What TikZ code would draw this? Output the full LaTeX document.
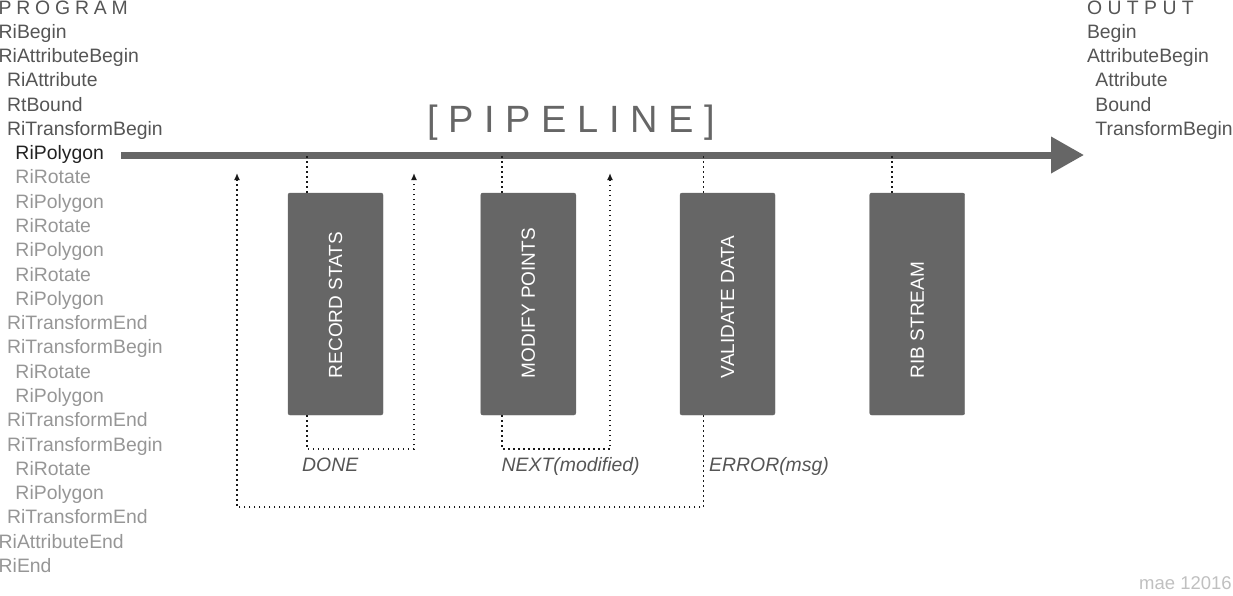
\documentclass[tikz,border=0pt]{standalone}
\usepackage{fontspec}
\setmainfont{Liberation Sans}
\usetikzlibrary{arrows.meta,calc,positioning}
\definecolor{pipeGray}{RGB}{102,102,102}
\definecolor{listDark}{RGB}{85,85,85}
\definecolor{listActive}{RGB}{34,34,34}
\definecolor{listLight}{RGB}{150,150,150}
\definecolor{signGray}{RGB}{192,192,192}
\colorlet{ink}{black!90}
\tikzset{
  pipe/.style={draw=pipeGray, line width=7pt, -{Triangle[length=33pt,width=35pt]}},
  stagebox/.style={
    draw=pipeGray,
    fill=pipeGray,
    rounded corners=2pt,
    minimum width=95pt,
    minimum height=222pt,
    inner sep=0pt,
    text=white,
    font=\fontsize{19}{23}\selectfont
  },
  tap/.style={draw=ink, line width=1.6pt, dash pattern=on 1.6pt off 3.4pt},
  feedback/.style={tap, -{Latex[length=7pt,width=6pt]}},
  listitem/.style={font=\fontsize{19.4}{23}\selectfont, anchor=base west, inner sep=0pt},
  header/.style={listitem, text=listDark},
  signal/.style={font=\fontsize{19.4}{23}\selectfont\itshape, text=listDark, anchor=base west, inner sep=0pt}
}
\newcommand{\StageText}[1]{\rotatebox{90}{\makebox[148pt][l]{#1}}}

\begin{document}
\begin{tikzpicture}[x=1pt,y=-1pt]
  \useasboundingbox (0,0) rectangle (1233,595);

  % program column
  \node[header] (proghead) at (-1.5,14) {\spaceskip=4.8pt P R O G R A M};
  \foreach \t/\ind/\c [count=\i from 0] in {
      RiBegin/0/listDark, RiAttributeBegin/0/listDark, RiAttribute/1/listDark,
      RtBound/1/listDark, RiTransformBegin/1/listDark, RiPolygon/2/listActive,
      RiRotate/2/listLight, RiPolygon/2/listLight, RiRotate/2/listLight,
      RiPolygon/2/listLight, RiRotate/2/listLight, RiPolygon/2/listLight,
      RiTransformEnd/1/listLight, RiTransformBegin/1/listLight, RiRotate/2/listLight,
      RiPolygon/2/listLight, RiTransformEnd/1/listLight, RiTransformBegin/1/listLight,
      RiRotate/2/listLight, RiPolygon/2/listLight, RiTransformEnd/1/listLight,
      RiAttributeEnd/0/listLight, RiEnd/0/listLight}
    \node[listitem, text=\c] (p\i) at ({\ind*8.4-1.5},{38.3+\i*24.28}) {\t};

  % output column
  \node[header] (outhead) at (1086.8,14) {\spaceskip=5.4pt O U T P U T};
  \node[header] (o0) at (1086.8,38.3) {Begin};
  \node[header] (o1) at (1086.8,62.6) {AttributeBegin};
  \node[header] (o2) at (1095.2,86.9) {Attribute};
  \node[header] (o3) at (1095.2,111.2) {Bound};
  \node[header] (o4) at (1095.2,135.5) {TransformBegin};

  % pipeline
  \node[anchor=base west, inner sep=0pt, text=pipeGray, font=\fontsize{38}{40}\selectfont] (title) at (427.5,132) {[ P I P E L I N E ]};
  \coordinate (pipestart) at (121,155);
  \coordinate (pipeend) at (1084,155);
  \draw[pipe] (pipestart) -- (pipeend);

  \node[stagebox] (rec) at (335.5,304) {\StageText{RECORD STATS}};
  \node[stagebox] (mod) at (528.3,304) {\StageText{MODIFY POINTS}};
  \node[stagebox] (val) at (727.5,304) {\StageText{VALIDATE DATA}};
  \node[stagebox] (rib) at (917.2,304) {\StageText{RIB STREAM}};

  \draw[tap] ([xshift=19pt]rec.north west) -- ++(0,-38);
  \draw[tap] ([xshift=21.5pt]mod.north west) -- ++(0,-38);
  \draw[tap] ([xshift=23.5pt]val.north west) -- ++(0,-38);
  \draw[tap] ([xshift=22.5pt]rib.north west) -- ++(0,-38);

  \coordinate (errup) at (237,173);
  \coordinate (doneup) at (414,173);
  \coordinate (nextup) at (610,173);
  \draw[feedback] ([xshift=19pt]rec.south west) -- ++(0,34) -| (doneup);
  \draw[feedback] ([xshift=21.5pt]mod.south west) -- ++(0,34) -| (nextup);
  \draw[feedback] ([xshift=23.5pt]val.south west) -- ++(0,92) -| (errup);

  \node[signal] (done) at (302,471.5) {DONE};
  \node[signal] (next) at (501.5,471.5) {NEXT(modified)};
  \node[signal] (err) at (709,471.5) {ERROR(msg)};

  \node[anchor=base east, inner sep=0pt, text=signGray, font=\fontsize{18.5}{22}\selectfont] (sign) at (1232,589) {mae 12016};
\end{tikzpicture}
\end{document}
